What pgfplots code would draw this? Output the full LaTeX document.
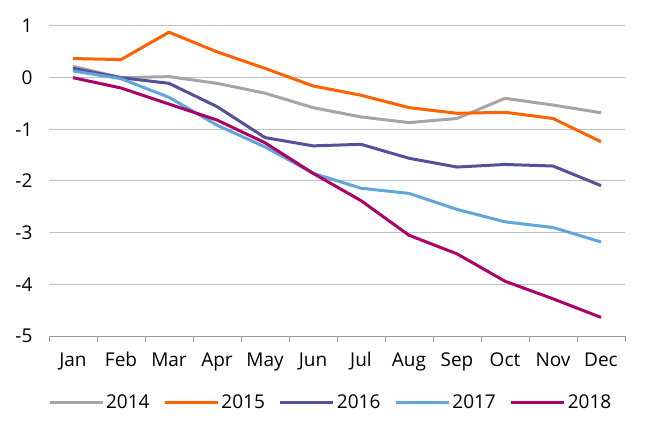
\documentclass[border=0pt]{standalone}
\usepackage{pgfplots}
\pgfplotsset{compat=1.18}
\usepackage{fontspec}
\setmainfont{Open Sans}
\definecolor{c14}{HTML}{A5A5A5}
\definecolor{c15}{HTML}{FF6200}
\definecolor{c16}{HTML}{525199}
\definecolor{c17}{HTML}{60A6DA}
\definecolor{c18}{HTML}{AB0066}
\definecolor{gridc}{HTML}{BFBFBF}
\begin{document}
\fontsize{19bp}{23bp}\selectfont
\begin{tikzpicture}
\begin{axis}[
  scale only axis,
  width=576bp, height=310bp,
  xmin=-0.5, xmax=11.5,
  ymin=-5, ymax=1,
  axis line style={draw=none},
  axis x line*=bottom,
  ytick={-5,-4,-3,-2,-1,0,1},
  yticklabels={-5,-4,-3,-2,-1,0,1},
  ymajorgrids,
  grid style={gridc, line width=1bp},
  y tick style={draw=none},
  yticklabel style={font=\fontsize{19bp}{23bp}\selectfont, xshift=-4bp},
  xtick={-0.5,0.5,...,11.5},
  x tick label as interval,
  xticklabels={Jan,Feb,Mar,Apr,May,Jun,Jul,Aug,Sep,Oct,Nov,Dec},
  xticklabel style={font=\fontsize{19bp}{23bp}\selectfont, yshift=-4bp},
  x tick style={draw=gridc!80!black, line width=1bp},
  tick align=outside,
  major tick length=6bp,
  legend columns=5,
  legend style={at={(0.489,-0.216)}, anchor=center, draw=none, fill=none,
    font=\fontsize{19bp}{23bp}\selectfont,
    /tikz/every even column/.append style={column sep=12bp},
    nodes={inner sep=2bp}},
  legend image code/.code={\draw[#1] (0bp,0bp) -- (53bp,0bp);},
  every axis plot/.append style={line width=3bp, line join=round},
]
\draw[gridc!80!black, line width=1bp] (axis cs:-0.5,-5) -- (axis cs:11.5,-5);
\addplot[c14] coordinates {(0,0.22)(1,0.0)(2,0.02)(3,-0.11)(4,-0.30)(5,-0.58)(6,-0.76)(7,-0.87)(8,-0.79)(9,-0.40)(10,-0.53)(11,-0.68)};
\addplot[c15] coordinates {(0,0.37)(1,0.35)(2,0.88)(3,0.50)(4,0.18)(5,-0.16)(6,-0.34)(7,-0.58)(8,-0.69)(9,-0.67)(10,-0.79)(11,-1.24)};
\addplot[c16] coordinates {(0,0.18)(1,0.0)(2,-0.11)(3,-0.56)(4,-1.16)(5,-1.32)(6,-1.29)(7,-1.56)(8,-1.73)(9,-1.68)(10,-1.71)(11,-2.09)};
\addplot[c17] coordinates {(0,0.13)(1,-0.02)(2,-0.38)(3,-0.92)(4,-1.34)(5,-1.85)(6,-2.14)(7,-2.24)(8,-2.55)(9,-2.79)(10,-2.90)(11,-3.18)};
\addplot[c18] coordinates {(0,0.0)(1,-0.20)(2,-0.51)(3,-0.82)(4,-1.26)(5,-1.85)(6,-2.38)(7,-3.05)(8,-3.41)(9,-3.94)(10,-4.28)(11,-4.64)};
\legend{2014,2015,2016,2017,2018}
\end{axis}
\path ([xshift=-49bp,yshift=-102bp]current axis.south west) rectangle ([xshift=29bp,yshift=26bp]current axis.north east);
\end{tikzpicture}
\end{document}
